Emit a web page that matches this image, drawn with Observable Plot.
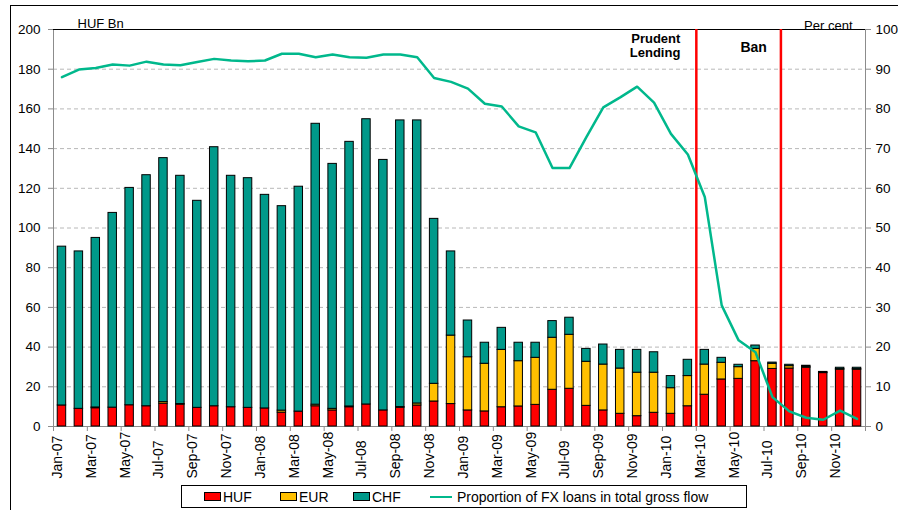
<!DOCTYPE html>
<html>
<head>
<meta charset="utf-8">
<script src="https://cdn.jsdelivr.net/npm/d3@7"></script>
<script src="https://cdn.jsdelivr.net/npm/@observablehq/plot@0.6"></script>
<style>
  body { margin: 0; background: #fff; }
  #wrap { position: relative; width: 898px; height: 510px; overflow: hidden; font-family: "Liberation Sans", Arial, sans-serif; background: #fff; }
  #frame { position: absolute; left: 10px; top: 5px; right: -5px; bottom: -5px; border-top: 1px solid #000; border-left: 1px solid #000; pointer-events: none; }
  #chart { position: absolute; left: 0; top: 0; }
  #legend { position: absolute; left: 181px; top: 485px; width: 566px; height: 23px; border: 1px solid #000; box-sizing: border-box; font-size: 14px; color: #000; background: #fff; }
  #legend .sw { position: absolute; top: 6px; width: 17px; height: 9px; border: 1px solid #000; box-sizing: border-box; }
  #legend .ln { position: absolute; top: 10px; width: 22px; height: 0; border-top: 2.5px solid #00b88c; }
  #legend .tx { position: absolute; top: 3px; line-height: 16px; white-space: nowrap; }
</style>
</head>
<body>
<div id="wrap">
  <div id="chart"></div>
  <div id="frame"></div>
  <div id="legend"></div>
</div>
<script>
// ---- data ----
const months = [
  "Jan-07","Feb-07","Mar-07","Apr-07","May-07","Jun-07","Jul-07","Aug-07","Sep-07","Oct-07","Nov-07","Dec-07",
  "Jan-08","Feb-08","Mar-08","Apr-08","May-08","Jun-08","Jul-08","Aug-08","Sep-08","Oct-08","Nov-08","Dec-08",
  "Jan-09","Feb-09","Mar-09","Apr-09","May-09","Jun-09","Jul-09","Aug-09","Sep-09","Oct-09","Nov-09","Dec-09",
  "Jan-10","Feb-10","Mar-10","Apr-10","May-10","Jun-10","Jul-10","Aug-10","Sep-10","Oct-10","Nov-10","Dec-10"
];
const huf = [
  10.6, 8.9, 9.2, 9.5, 10.7, 10.2, 11.5, 11.0, 9.4, 10.2, 9.7, 9.4,
  9.1, 7.0, 7.5, 10.2, 8.1, 9.7, 11.1, 8.1, 9.4, 10.6, 12.6, 11.3,
  8.1, 7.6, 9.7, 10.1, 10.9, 18.5, 19.0, 10.4, 8.1, 6.4, 5.2, 6.9,
  6.4, 10.2, 16.0, 23.7, 24.0, 32.9, 29.0, 29.2, 29.6, 26.9, 28.6, 28.6
];
const eur = [
  0, 0, 0.4, 0, 0, 0, 0.8, 0.3, 0, 0, 0, 0,
  0, 1.0, 0, 0.8, 0.8, 0.4, 0, 0, 0.4, 1.0, 8.9, 34.5,
  26.8, 24.0, 28.9, 22.8, 23.7, 26.2, 27.2, 22.2, 23.1, 22.8, 21.9, 20.2,
  12.9, 15.2, 15.2, 8.4, 5.9, 6.2, 2.6, 1.2, 0.5, 0.3, 0.3, 0.3
];
const chf = [
  80.0, 79.3, 85.4, 98.1, 109.5, 116.4, 122.9, 115.0, 104.3, 130.5, 116.6, 115.7,
  107.6, 103.0, 113.3, 141.5, 123.4, 133.3, 143.7, 126.2, 144.4, 142.6, 83.1, 42.4,
  18.5, 10.6, 11.1, 9.3, 7.6, 8.4, 8.6, 6.5, 10.1, 9.4, 11.5, 10.3,
  6.1, 8.2, 7.4, 2.5, 1.2, 1.7, 0.6, 0.7, 0.5, 0.3, 0.7, 0.7
];
const fxShare = [
  88.0, 89.9, 90.3, 91.2, 90.9, 91.9, 91.2, 91.0, 91.8, 92.6, 92.2, 92.0,
  92.2, 93.9, 93.9, 93.0, 93.7, 93.0, 92.9, 93.7, 93.7, 93.0, 87.8, 86.8,
  85.1, 81.3, 80.6, 75.6, 74.1, 65.1, 65.1, 72.9, 80.4, 82.9, 85.6, 81.6,
  73.7, 68.5, 57.8, 30.5, 21.7, 18.7, 7.4, 3.8, 2.2, 1.7, 4.0, 1.9
];
const currencies = ["HUF", "EUR", "CHF"];
const currencyColors = ["#ff0000", "#ffc000", "#00998a"];
const lineLabel = "Proportion of FX loans in total gross flow";
const leftTicks = [0, 20, 40, 60, 80, 100, 120, 140, 160, 180, 200];
const rightTicks = [0, 10, 20, 30, 40, 50, 60, 70, 80, 90, 100];
const tickMonths = months.filter((m, i) => i % 2 === 0);
const events = [
  {month: "Mar-10", label: "Prudent\nLending"},
  {month: "Aug-10", label: "Ban"}
];

// ---- tables ----
const series = {HUF: huf, EUR: eur, CHF: chf};
const rows = months.flatMap((m, i) => currencies.map(c => ({month: m, currency: c, value: series[c][i]})));
const lineRows = months.map((m, i) => ({month: m, share: fxShare[i]}));

// ---- layout ----
const W = 898, H = 480, mL = 53, mR = 33, mT = 29, mB = 54;
const step = (W - mL - mR) / months.length;
const ratio = 200 / 100; // left scale units per percent

const chart = Plot.plot({
  width: W, height: H,
  marginLeft: mL, marginRight: mR, marginTop: mT, marginBottom: mB,
  style: {fontFamily: '"Liberation Sans", Arial, sans-serif', fontSize: "13.5px", color: "#000", background: "transparent"},
  x: {type: "band", domain: months, paddingInner: 0.5, paddingOuter: 0.25, axis: null},
  y: {domain: [0, 200], axis: null},
  color: {domain: currencies, range: currencyColors},
  marks: [
    Plot.gridY(leftTicks.filter(t => t > 0 && t < 200), {stroke: "#b8b8b8", strokeOpacity: 1, strokeDasharray: "4,3"}),
    Plot.frame({stroke: "#8c8c8c"}),
    Plot.ruleY([200], {stroke: "#000", strokeWidth: 1}),
    Plot.barY(rows, {x: "month", y: "value", fill: "currency", order: currencies, stroke: "#000", strokeWidth: 1}),
    Plot.ruleX(events, {x: "month", dx: -step / 2, stroke: "#ff0000", strokeWidth: 2.5}),
    Plot.line(lineRows, {x: "month", y: d => d.share * ratio, stroke: "#00b88c", strokeWidth: 2.5}),
    Plot.axisY({anchor: "left", ticks: leftTicks, tickSize: 5, tickPadding: 8, stroke: "#8c8c8c", fill: "#000", label: null}),
    Plot.axisY({anchor: "right", ticks: rightTicks.map(t => t * ratio), tickFormat: d => d / ratio, tickSize: 5, tickPadding: 5, stroke: "#8c8c8c", fill: "#000", label: null}),
    Plot.axisX({ticks: tickMonths, tickSize: 5, tickFormat: () => "", dx: -step / 2, stroke: "#8c8c8c", label: null}),
    Plot.axisX({ticks: [months[months.length - 1]], tickSize: 5, tickFormat: () => "", dx: step / 2, stroke: "#8c8c8c", label: null}),
    Plot.text(tickMonths, {x: d => d, text: d => d, frameAnchor: "bottom", dy: 52, rotate: -90, textAnchor: "start", fill: "#000", fontSize: 14}),
    Plot.text([events[0]], {x: "month", text: "label", frameAnchor: "top", dx: -step / 2 - 16, dy: 3, textAnchor: "end", lineAnchor: "top", lineHeight: 1.12, fontWeight: "bold", fontSize: 13}),
    Plot.text([events[1]], {x: "month", text: "label", frameAnchor: "top", dx: -step / 2 - 14, dy: 18, textAnchor: "end", lineAnchor: "middle", fontWeight: "bold", fontSize: 14}),
    Plot.text(["HUF Bn"], {text: d => d, frameAnchor: "top-left", dx: 24, dy: -11, textAnchor: "start", fontSize: 13}),
    Plot.text(["Per cent"], {text: d => d, frameAnchor: "top-right", dx: -13, dy: -9, textAnchor: "end", fontSize: 13})
  ]
});
document.getElementById("chart").appendChild(chart);

// ---- legend ----
const legend = document.getElementById("legend");
const legendItems = [
  {type: "sw", color: currencyColors[0], label: currencies[0], x: 22},
  {type: "sw", color: currencyColors[1], label: currencies[1], x: 98},
  {type: "sw", color: currencyColors[2], label: currencies[2], x: 171},
  {type: "ln", color: "#00b88c", label: lineLabel, x: 248}
];
for (const it of legendItems) {
  const s = document.createElement("div");
  s.className = it.type;
  s.style.left = it.x + "px";
  if (it.type === "sw") s.style.background = it.color; else s.style.borderTopColor = it.color;
  legend.appendChild(s);
  const t = document.createElement("div");
  t.className = "tx";
  t.style.left = (it.x + (it.type === "sw" ? 19 : 27)) + "px";
  t.textContent = it.label;
  legend.appendChild(t);
}
</script>
</body>
</html>
